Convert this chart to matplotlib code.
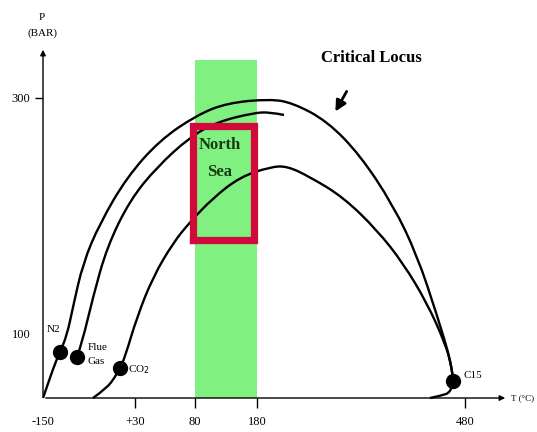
import matplotlib
matplotlib.use('Agg')
import matplotlib.pyplot as plt
from matplotlib.path import Path
from matplotlib.patches import PathPatch

plt.rcParams['font.family'] = ['Liberation Serif', 'DejaVu Serif']

# schematic units: x = temperature axis position, y = pressure axis position
x_ticks = [0, 92, 152, 214, 422]
x_labels = ['-150', '+30', '80', '180', '480']
y_ticks = [65, 300]
y_labels = ['100', '300']

# critical loci
n2_x = [0, 12, 17, 24, 30, 40, 57, 84, 117, 154, 184, 227, 250, 284, 317, 350, 374, 394, 409, 410]
n2_y = [0, 35, 46, 63, 91, 135, 175, 221, 258, 283, 295, 299, 295, 277, 243, 193, 143, 83, 33, 18]
flue_x = [34, 39, 50, 64, 87, 114, 147, 174, 210, 227, 241]
flue_y = [41, 55, 101, 151, 198, 231, 261, 276, 285, 286, 283]
co2_x = [50, 64, 72, 77, 82, 94, 110, 130, 147, 170, 197, 227, 244, 267, 300, 334, 360, 384, 402, 409, 410]
co2_y = [0, 10, 21, 30, 41, 81, 121, 155, 176, 200, 221, 231, 232, 221, 201, 168, 135, 95, 55, 31, 18]
c15_x = [410, 409, 397, 387]
c15_y = [18, 6, 2, 0]

# components
comp_x = [17, 34, 77, 410]
comp_y = [46, 41, 30, 17]

# north sea window
sea_t = [152, 214]
sea_top = 338
box_x = [150, 211]
box_y = [158, 272]


def smooth_curve(ax, xs, ys, **kw):
    # quadratic bezier through midpoints, read points as control points
    pts = list(zip(xs, ys))
    verts = [pts[0]]
    codes = [Path.MOVETO]
    for i in range(1, len(pts) - 1):
        mid = ((pts[i][0] + pts[i + 1][0]) / 2, (pts[i][1] + pts[i + 1][1]) / 2)
        if i == len(pts) - 2:
            mid = pts[-1]
        verts += [pts[i], mid]
        codes += [Path.CURVE3, Path.CURVE3]
    ax.add_patch(PathPatch(Path(verts, codes), fill=False, **kw))


fig = plt.figure(figsize=(5.37, 4.32), dpi=100)
ax = fig.add_axes([0, 0, 1, 1])
ax.set_xlim(-43, 494)
ax.set_ylim(-34, 398)

ax.fill_between(sea_t, 0, sea_top, color='#80f080', lw=0, zorder=0)
ax.plot([box_x[0], box_x[1], box_x[1], box_x[0], box_x[0]],
        [box_y[0], box_y[0], box_y[1], box_y[1], box_y[0]],
        color='#d20a3c', lw=5.2, solid_joinstyle='miter', zorder=3)

for xs, ys in [(n2_x, n2_y), (flue_x, flue_y), (co2_x, co2_y), (c15_x, c15_y)]:
    smooth_curve(ax, xs, ys, edgecolor='black', lw=1.7, zorder=2)
ax.plot(comp_x, comp_y, 'o', color='black', ms=10, zorder=4)

# axes with arrows
for s in ['top', 'right']:
    ax.spines[s].set_visible(False)
ax.spines['left'].set_position(('data', 0))
ax.spines['bottom'].set_position(('data', 0))
ax.spines['left'].set_visible(False)
ax.spines['bottom'].set_visible(False)
ax.annotate('', xy=(465, 0), xytext=(0, 0),
            arrowprops=dict(arrowstyle='-|>', color='black', lw=1, mutation_scale=8))
ax.annotate('', xy=(0, 351), xytext=(0, 0),
            arrowprops=dict(arrowstyle='-|>', color='black', lw=1, mutation_scale=8))
ax.set_xticks(x_ticks)
ax.set_xticklabels(x_labels)
ax.set_yticks(y_ticks)
ax.set_yticklabels(y_labels)
ax.tick_params(axis='x', direction='out', length=7, width=1, pad=6, labelsize=9)
ax.tick_params(axis='y', direction='out', length=6, width=1, pad=3, labelsize=9)
ax.xaxis.get_major_ticks()[0].tick1line.set_visible(False)
ax.yaxis.get_major_ticks()[0].tick1line.set_visible(False)

ax.text(-1, 381, 'P', ha='center', va='center', fontsize=8)
ax.text(-1, 365, '(BAR)', ha='center', va='center', fontsize=8)
ax.text(468, 0, 'T (°C)', ha='left', va='center', fontsize=6.5)

ax.text(4, 68, 'N2', ha='left', va='center', fontsize=8)
ax.text(45, 50, 'Flue', ha='left', va='center', fontsize=8)
ax.text(45, 36, 'Gas', ha='left', va='center', fontsize=8)
ax.text(85, 28, 'CO$_2$', ha='left', va='center', fontsize=8)
ax.text(420, 23, 'C15', ha='left', va='center', fontsize=8)

ax.text(177, 253, 'North', ha='center', va='center', fontsize=12,
        fontweight='bold', color='#143c14', zorder=5)
ax.text(177, 226, 'Sea', ha='center', va='center', fontsize=12,
        fontweight='bold', color='#143c14', zorder=5)

ax.text(328, 340, 'Critical Locus', ha='center', va='center', fontsize=12,
        fontweight='bold')
ax.annotate('', xy=(291, 284), xytext=(305, 309),
            arrowprops=dict(arrowstyle='-|>', color='black', lw=2, mutation_scale=16))

fig.savefig('out.png', dpi=100)
